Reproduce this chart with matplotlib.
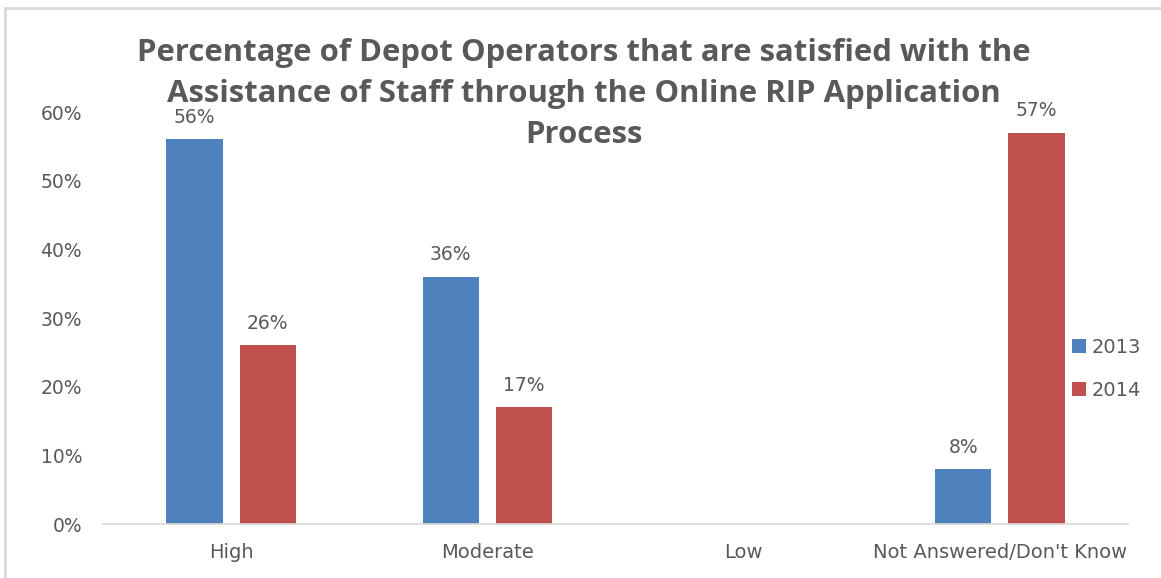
import matplotlib
matplotlib.use("Agg")
import matplotlib.pyplot as plt
from matplotlib.patches import Rectangle
import numpy as np

categories = ["High", "Moderate", "Low", "Not Answered/Don't Know"]
series_names = ["2013", "2014"]
values_2013 = [56, 36, np.nan, 8]
values_2014 = [26, 17, np.nan, 57]
y_ticks = [0, 10, 20, 30, 40, 50, 60]

title_lines = ["Percentage of Depot Operators that are satisfied with the",
               "Assistance of Staff through the Online RIP Application",
               "Process"]

BLUE = "#4F81BD"
RED = "#C0504D"
TEXT = "#595959"
TITLE_FONT = ["Open Sans", "DejaVu Sans"]

plt.rcParams["font.family"] = ["DejaVu Sans"]

W, H = 1161, 578
fig = plt.figure(figsize=(W / 100, H / 100), dpi=100)
fig.patch.set_facecolor("white")

# light chart-area frame
fig.add_artist(Rectangle((5 / W, -0.01), 1.2, 1 - 8 / H + 0.01,
                         transform=fig.transFigure, fill=False,
                         edgecolor="#D9D9D9", linewidth=2))

ax = fig.add_axes([103 / W, 54 / H, 1025 / W, 412 / H])
x = np.arange(len(categories))
width = 0.22
offset = 0.143

b1 = ax.bar(x - offset, values_2013, width, color=BLUE, label=series_names[0])
b2 = ax.bar(x + offset, values_2014, width, color=RED, label=series_names[1])

for bars, vals in ((b1, values_2013), (b2, values_2014)):
    for rect, v in zip(bars, vals):
        if np.isnan(v):
            continue
        ax.annotate(f"{v:.0f}%", (rect.get_x() + rect.get_width() / 2, v),
                    xytext=(0, 9), textcoords="offset points",
                    ha="center", va="bottom", fontsize=13.5, color=TEXT)

ax.set_xlim(-0.5, len(categories) - 0.5)
ax.set_ylim(0, 60)
ax.set_yticks(y_ticks)
ax.set_yticklabels([f"{t}%" for t in y_ticks])
ax.set_xticks(x)
ax.set_xticklabels(categories)
ax.tick_params(axis="y", length=0, pad=15, labelsize=13.5, labelcolor=TEXT)
ax.tick_params(axis="x", length=0, pad=14, labelsize=14, labelcolor=TEXT)

for s in ("top", "right", "left"):
    ax.spines[s].set_visible(False)
ax.spines["bottom"].set_color("#D9D9D9")
ax.spines["bottom"].set_linewidth(1.2)

# three-line chart title, one text per line
for i, line in enumerate(title_lines):
    fig.text(584 / W, 1 - (61 + 41 * i) / H, line, ha="center", va="baseline",
             fontsize=22.4, fontweight="bold", color=TEXT, family=TITLE_FONT)

leg = fig.legend(handles=[b1, b2], labels=series_names,
                 loc="center left", bbox_to_anchor=(1054 / W, 1 - 369 / H),
                 frameon=False, fontsize=14, handlelength=0.75,
                 handleheight=0.75, handletextpad=0.3, labelspacing=1.25,
                 labelcolor=TEXT)

fig.savefig("out.png", dpi=100, facecolor="white")
